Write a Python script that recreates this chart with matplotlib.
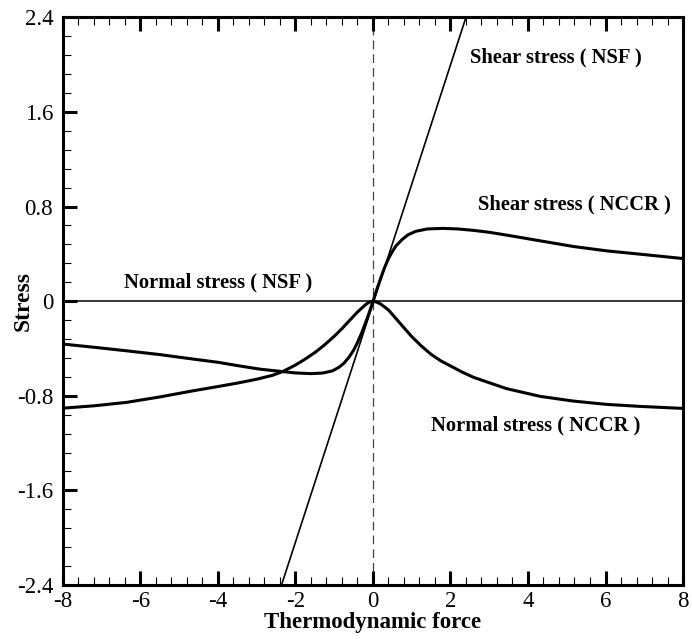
import matplotlib
matplotlib.use("Agg")
import matplotlib.pyplot as plt
from matplotlib.ticker import MultipleLocator, FixedLocator

plt.rcParams["font.family"] = ["Liberation Serif", "DejaVu Serif"]
plt.rcParams["axes.unicode_minus"] = False

# Navier-Stokes-Fourier (linear) relations
nsf_shear_x = [-2.36, 2.40]
nsf_shear_y = [-2.4, 2.4]
nsf_normal_x = [-8.0, 8.0]
nsf_normal_y = [0.0, 0.0]

# NCCR shear stress
nccr_shear_x = [-8.0, -7.2, -6.36, -5.5, -4.64, -4.0, -3.5, -2.92, -2.3, -2.0,
                -1.6, -1.3, -1.05, -0.88, -0.75, -0.62, -0.5, -0.4, -0.3, -0.2,
                -0.1, 0.0, 0.1, 0.2, 0.3, 0.4, 0.5, 0.6, 0.75, 0.9,
                1.1, 1.4, 1.8, 2.2, 2.6, 3.0, 3.45, 4.31, 5.17, 6.03,
                6.89, 8.0]
nccr_shear_y = [-0.363, -0.39, -0.42, -0.452, -0.49, -0.517, -0.545, -0.575, -0.597, -0.607,
                -0.613, -0.608, -0.59, -0.56, -0.525, -0.475, -0.415, -0.35, -0.275, -0.19,
                -0.1, 0.0, 0.1, 0.195, 0.285, 0.36, 0.42, 0.47, 0.52, 0.56,
                0.59, 0.61, 0.615, 0.61, 0.598, 0.582, 0.558, 0.51, 0.462, 0.425,
                0.397, 0.36]

# NCCR normal stress
nccr_normal_x = [-8.0, -7.2, -6.36, -5.5, -4.64, -4.0, -3.5, -3.0, -2.6, -2.32,
                 -2.0, -1.75, -1.5, -1.25, -1.0, -0.8, -0.6, -0.4, -0.2, -0.1,
                 0.0, 0.1, 0.2, 0.4, 0.6, 0.8, 1.0, 1.25, 1.5, 1.75,
                 2.07, 2.3, 2.6, 3.0, 3.45, 4.31, 5.17, 6.03, 6.89, 8.0]
nccr_normal_y = [-0.905, -0.885, -0.856, -0.81, -0.758, -0.722, -0.693, -0.66, -0.628, -0.594,
                 -0.54, -0.49, -0.435, -0.37, -0.297, -0.232, -0.162, -0.092, -0.032, -0.009,
                 0.0, -0.009, -0.025, -0.075, -0.15, -0.225, -0.3, -0.38, -0.45, -0.505,
                 -0.56, -0.6, -0.645, -0.69, -0.74, -0.805, -0.845, -0.873, -0.89, -0.907]

x_ticks = [-8, -6, -4, -2, 0, 2, 4, 6, 8]
x_tick_labels = ["-8", "-6", "-4", "-2", "0", "2", "4", "6", "8"]
y_ticks = [-2.4, -1.6, -0.8, 0, 0.8, 1.6, 2.4]
y_tick_labels = ["-2.4", "-1.6", "-0.8", "0", "0.8", "1.6", "2.4"]

fig = plt.figure(figsize=(6.92, 6.39), dpi=100)
ax = fig.add_axes([0.091, 0.0845, 0.896, 0.8885])

ax.axvline(0, color="#444444", linewidth=0.9, linestyle=(0, (7, 4)), zorder=1)
ax.plot(nsf_normal_x, nsf_normal_y, color="black", linewidth=1.1, zorder=2)
ax.plot(nsf_shear_x, nsf_shear_y, color="black", linewidth=1.2, zorder=2)
ax.plot(nccr_shear_x, nccr_shear_y, color="black", linewidth=2.2, zorder=3,
        solid_joinstyle="round")
ax.plot(nccr_normal_x, nccr_normal_y, color="black", linewidth=2.2, zorder=3,
        solid_joinstyle="round")

label_font = {"fontsize": 14.8, "fontweight": "bold", "ha": "center", "va": "center"}
ax.text(-4.0, 0.16, "Normal stress ( NSF )", **label_font)
ax.text(4.72, 2.06, "Shear stress ( NSF )", **label_font)
ax.text(5.21, 0.82, "Shear stress ( NCCR )", **label_font)
ax.text(4.20, -1.05, "Normal stress ( NCCR )", **label_font)

ax.set_xlim(-8, 8)
ax.set_ylim(-2.4, 2.4)
ax.xaxis.set_major_locator(FixedLocator(x_ticks))
ax.set_xticklabels(x_tick_labels)
ax.yaxis.set_major_locator(FixedLocator(y_ticks))
ax.set_yticklabels(y_tick_labels)
ax.xaxis.set_minor_locator(MultipleLocator(0.4))
ax.yaxis.set_minor_locator(MultipleLocator(0.16))

ax.tick_params(which="both", direction="in", top=True, right=False, labelsize=16.5)
ax.tick_params(which="major", length=10, width=2.2)
ax.tick_params(which="minor", length=6, width=0.8)
ax.tick_params(axis="y", which="major", pad=7)
ax.tick_params(axis="x", which="major", pad=4)
for side in ax.spines.values():
    side.set_linewidth(2.2)

ax.set_xlabel("Thermodynamic force", fontsize=16.5, fontweight="bold")
ax.set_ylabel("Stress", fontsize=17, fontweight="bold")
ax.xaxis.set_label_coords(0.5, -0.047)
ax.yaxis.set_label_coords(-0.048, 0.5)

fig.savefig("out.png", dpi=100)
